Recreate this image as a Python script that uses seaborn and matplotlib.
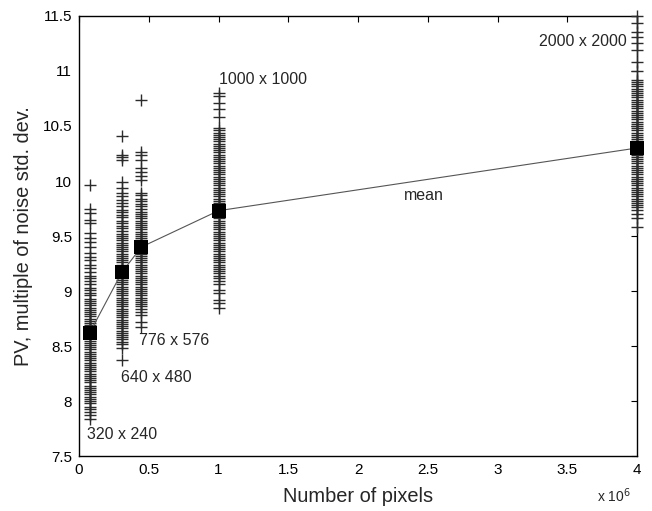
import matplotlib
matplotlib.use("Agg")
import matplotlib.pyplot as plt
import numpy as np
import pandas as pd
import seaborn as sns

# ---------------- data ----------------
resolutions = ["320 x 240", "640 x 480", "776 x 576", "1000 x 1000", "2000 x 2000"]
pixels = [76800, 307200, 446976, 1000000, 4000000]

pv_320 = [9.96, 9.75, 9.71, 9.65, 9.62, 9.53, 9.48, 9.45, 9.40, 9.35, 9.31, 9.28,
          9.24, 9.21, 9.17, 9.14, 9.12, 9.09, 9.06, 9.03, 9.01, 8.98, 8.96, 8.93,
          8.91, 8.89, 8.87, 8.85, 8.83, 8.81, 8.79, 8.77, 8.75, 8.73, 8.71, 8.69,
          8.67, 8.65, 8.63, 8.61, 8.59, 8.57, 8.55, 8.53, 8.51, 8.49, 8.47, 8.45,
          8.43, 8.41, 8.39, 8.37, 8.35, 8.33, 8.31, 8.29, 8.27, 8.25, 8.23, 8.21,
          8.19, 8.17, 8.14, 8.12, 8.10, 8.08, 8.06, 8.04, 8.02, 8.00, 7.98, 7.95,
          7.93, 7.90, 7.87, 7.84]

pv_640 = [10.41, 10.24, 10.22, 10.19, 9.99, 9.94, 9.89, 9.86, 9.83, 9.80, 9.77,
          9.74, 9.72, 9.69, 9.67, 9.64, 9.62, 9.59, 9.57, 9.55, 9.52, 9.50, 9.48,
          9.46, 9.44, 9.42, 9.40, 9.38, 9.36, 9.34, 9.32, 9.30, 9.28, 9.26, 9.24,
          9.22, 9.20, 9.18, 9.16, 9.14, 9.12, 9.10, 9.08, 9.06, 9.04, 9.02, 9.00,
          8.98, 8.96, 8.94, 8.92, 8.90, 8.88, 8.86, 8.84, 8.82, 8.80, 8.78, 8.76,
          8.74, 8.72, 8.70, 8.68, 8.66, 8.64, 8.62, 8.60, 8.58, 8.56, 8.54, 8.52,
          8.48, 8.37]

pv_776 = [10.74, 10.26, 10.24, 10.19, 10.12, 10.08, 10.05, 10.01, 9.89, 9.87,
          9.84, 9.82, 9.79, 9.77, 9.75, 9.72, 9.70, 9.68, 9.66, 9.64, 9.62, 9.60,
          9.58, 9.56, 9.54, 9.52, 9.50, 9.48, 9.46, 9.44, 9.42, 9.40, 9.38, 9.36,
          9.34, 9.32, 9.30, 9.28, 9.26, 9.24, 9.22, 9.20, 9.18, 9.16, 9.14, 9.12,
          9.10, 9.08, 9.06, 9.04, 9.02, 9.00, 8.98, 8.96, 8.94, 8.92, 8.90, 8.88,
          8.86, 8.84, 8.81, 8.78, 8.72, 8.67]

pv_1000 = [10.80, 10.77, 10.71, 10.65, 10.58, 10.48, 10.46, 10.44, 10.42, 10.40,
           10.38, 10.36, 10.34, 10.32, 10.30, 10.28, 10.26, 10.24, 10.22, 10.20,
           10.18, 10.16, 10.14, 10.12, 10.10, 10.08, 10.06, 10.04, 10.02, 10.00,
           9.98, 9.96, 9.94, 9.92, 9.90, 9.88, 9.86, 9.84, 9.82, 9.80, 9.78, 9.76,
           9.74, 9.72, 9.70, 9.68, 9.66, 9.64, 9.62, 9.60, 9.58, 9.56, 9.54, 9.52,
           9.50, 9.48, 9.46, 9.44, 9.42, 9.40, 9.38, 9.36, 9.34, 9.32, 9.30, 9.28,
           9.26, 9.24, 9.22, 9.20, 9.18, 9.16, 9.14, 9.12, 9.09, 9.06, 9.01, 8.98,
           8.92, 8.89, 8.85]

pv_2000 = [11.50, 11.44, 11.35, 11.31, 11.25, 11.19, 11.08, 11.00, 10.92, 10.90,
           10.88, 10.86, 10.84, 10.82, 10.80, 10.78, 10.76, 10.74, 10.72, 10.70,
           10.68, 10.66, 10.64, 10.62, 10.60, 10.58, 10.56, 10.54, 10.52, 10.50,
           10.48, 10.46, 10.44, 10.42, 10.40, 10.38, 10.36, 10.34, 10.32, 10.30,
           10.28, 10.26, 10.24, 10.22, 10.20, 10.18, 10.16, 10.14, 10.12, 10.10,
           10.08, 10.06, 10.04, 10.02, 10.00, 9.98, 9.96, 9.94, 9.92, 9.90, 9.88,
           9.86, 9.84, 9.82, 9.80, 9.78, 9.76, 9.74, 9.70, 9.66, 9.58]

pv_means = [8.62, 9.17, 9.40, 9.73, 10.30]

x_ticks = [0, 0.5e6, 1e6, 1.5e6, 2e6, 2.5e6, 3e6, 3.5e6, 4e6]
x_tick_labels = ["0", "0.5", "1", "1.5", "2", "2.5", "3", "3.5", "4"]
y_ticks = [7.5, 8, 8.5, 9, 9.5, 10, 10.5, 11, 11.5]
y_tick_labels = ["7.5", "8", "8.5", "9", "9.5", "10", "10.5", "11", "11.5"]

# ---------------- build frames ----------------
series = [pv_320, pv_640, pv_776, pv_1000, pv_2000]
rows = []
for px, vals in zip(pixels, series):
    for v in vals:
        rows.append({"pixels": px, "pv": v})
df = pd.DataFrame(rows)
mean_df = pd.DataFrame({"pixels": pixels, "mean": pv_means})

# ---------------- plot ----------------
sns.set_style("white")
plt.rcParams["font.family"] = ["Liberation Sans", "DejaVu Sans"]

fig = plt.figure(figsize=(6.52, 5.11), dpi=100)
ax = fig.add_axes([0.1212, 0.1076, 0.8558, 0.8611])

sns.scatterplot(data=df, x="pixels", y="pv", marker="+", color="#2b2b2b",
                s=80, linewidth=1.0, ax=ax, legend=False, clip_on=False, zorder=3)
sns.lineplot(data=mean_df, x="pixels", y="mean", color="#555555",
             linewidth=0.8, ax=ax, sort=False, zorder=4)
sns.scatterplot(data=mean_df, x="pixels", y="mean", marker="s", color="black",
                s=90, linewidth=0, ax=ax, legend=False, zorder=5, clip_on=False)

ax.set_xlim(0, 4e6)
ax.set_ylim(7.5, 11.5)
ax.set_xticks(x_ticks)
ax.set_xticklabels(x_tick_labels)
ax.set_yticks(y_ticks)
ax.set_yticklabels(y_tick_labels)
ax.tick_params(direction="in", length=4, width=0.8, top=True, right=True,
               labelsize=11, colors="black", pad=5)
for sp in ax.spines.values():
    sp.set_color("black")
    sp.set_linewidth(1.0)

ax.set_xlabel("Number of pixels", fontsize=14.4, labelpad=7)
ax.set_ylabel("PV, multiple of noise std. dev.", fontsize=14.4, labelpad=7)

fig.text(0.915, 0.018, r"x 10$^6$", fontsize=10)

# annotations
ax.text(1e6, 10.92, resolutions[3], fontsize=11.5, ha="left", va="center")
ax.text(3.93e6, 11.27, resolutions[4], fontsize=11.5, ha="right", va="center")
ax.text(0.43e6, 8.55, resolutions[2], fontsize=11.5, ha="left", va="center")
ax.text(0.30e6, 8.21, resolutions[1], fontsize=11.5, ha="left", va="center")
ax.text(0.06e6, 7.70, resolutions[0], fontsize=11.5, ha="left", va="center")
ax.text(2.33e6, 9.87, "mean", fontsize=11.5, ha="left", va="center")

fig.savefig("out.png", dpi=100)
